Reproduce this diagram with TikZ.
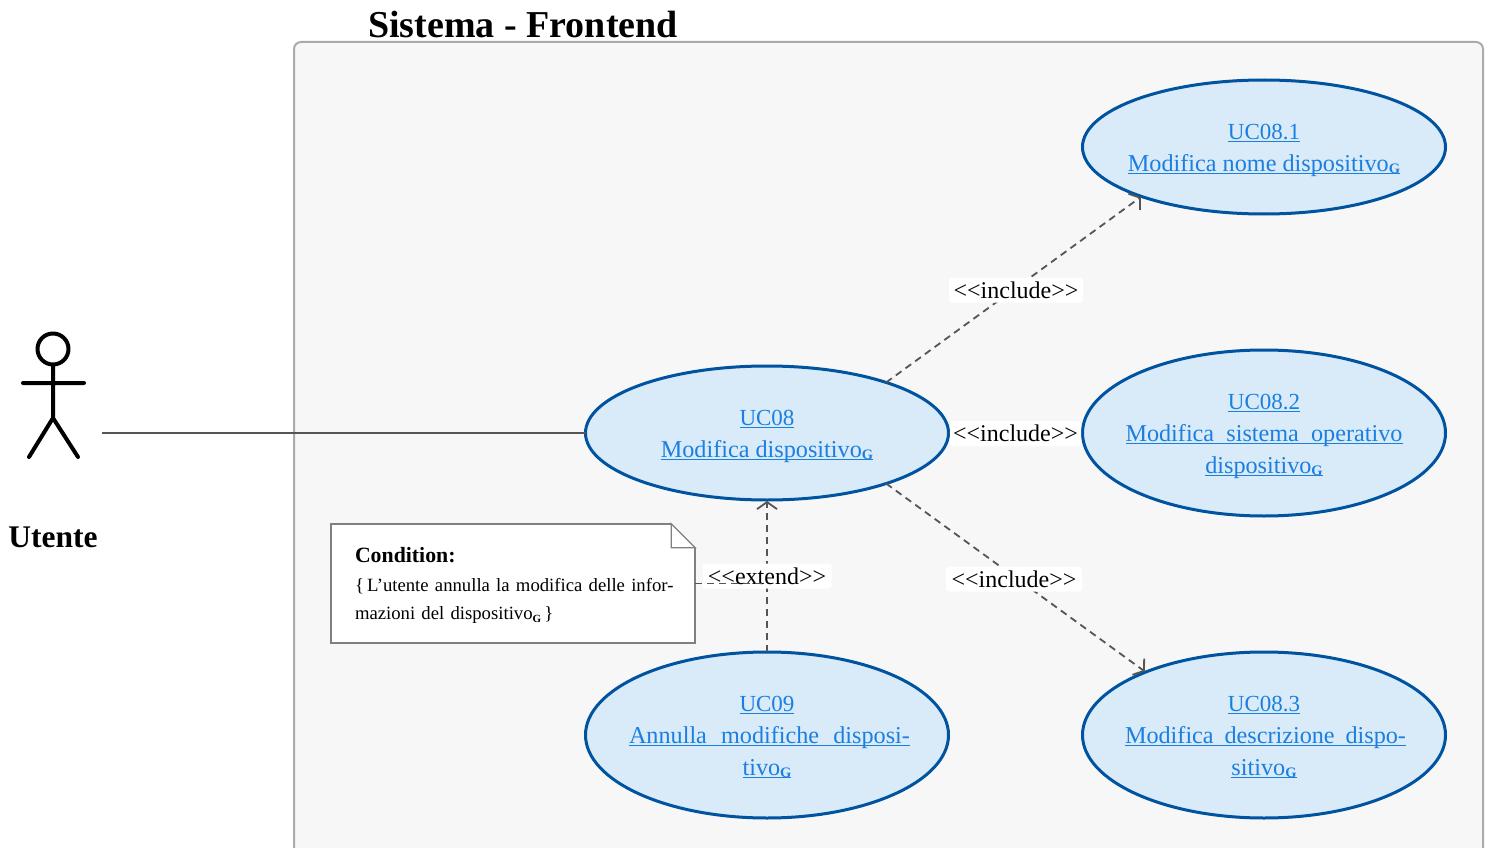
\documentclass[tikz,border=0pt]{standalone}
\usepackage{fontspec}
\setmainfont{Liberation Serif}
\usetikzlibrary{shapes.geometric,arrows.meta}
\definecolor{ucfill}{HTML}{D9EAF9}
\definecolor{ucline}{HTML}{00539F}
\definecolor{uclink}{HTML}{1A7FE0}
\definecolor{sysfill}{HTML}{F7F7F7}
\definecolor{sysline}{HTML}{ABABAB}
\definecolor{conn}{HTML}{555555}
\definecolor{noteline}{HTML}{808080}
\newcommand\ulin[1]{\leavevmode\setbox0=\hbox{#1}\rlap{\raisebox{-2.6pt}[0pt][0pt]{\vrule width\wd0 height1.3pt depth0pt}}\box0}
\newcommand\glsG[1][14.5]{\raisebox{-2.5pt}{\fontsize{#1}{#1}\selectfont\bfseries G}}
\newcommand\uctext[1]{\makebox[0pt]{\raisebox{-8.3pt}[0pt][0pt]{\begin{tabular}[c]{@{}c@{}}#1\end{tabular}}}}
\newcommand\just[2]{\makebox[#1pt][s]{#2}}
\newcommand\ucid[1]{\ulin{\fontsize{23}{32}\selectfont #1}}
\newcommand\dbl[1]{<{}<{}#1>{}>}
\tikzset{
  usecase/.style={ellipse,draw=ucline,fill=ucfill,line width=3pt,inner sep=0pt,outer sep=0pt,
    minimum width=363pt,text=uclink,font=\fontsize{24.2}{32}\selectfont},
  small uc/.style={usecase,minimum height=134pt},
  big uc/.style={usecase,minimum height=166pt},
  dep/.style={draw=conn,line width=1.8pt,dash pattern=on 7pt off 5pt,shorten >=1pt,-{Straight Barb[length=7pt,width=20pt,line width=1.8pt]}},
  deplabel/.style={fill=white,rounded corners=3pt,inner sep=0pt,minimum height=25pt,font=\fontsize{24}{25}\selectfont},
}
\begin{document}
\begin{tikzpicture}[x=1pt,y=-1pt]
\useasboundingbox (0,0) rectangle (1489,848);
% system boundary
\draw[fill=sysfill,draw=sysline,line width=2pt,rounded corners=7pt] (294,848) -- (294,42) -- (1483,42) -- (1483,848);
\node[anchor=base west,inner sep=0pt,font=\fontsize{38}{40}\selectfont\bfseries] (title) at (368,38) {Sistema - Frontend};
% actor
\draw[line width=4pt,line cap=round,line join=round,fill=none] (53,349) circle (15.5pt);
\draw[line width=4pt,line cap=round,line join=round] (53,365) -- (53,418) (23,383) -- (84,383) (29,457) -- (53,418) -- (78,457);
\node[inner sep=0pt,font=\fontsize{31.5}{33}\selectfont\bfseries] (actor) at (53,537) {Utente};
\coordinate (actorend) at (102,433);
% use cases
\node[small uc] (uc08) at (767,433) {\uctext{\ucid{UC08}\\\ulin{Modifica dispositivo\glsG}}};
\node[small uc] (uc081) at (1264,147) {\uctext{\ucid{UC08.1}\\\ulin{Modifica nome dispositivo\glsG}}};
\node[big uc] (uc082) at (1264,433) {\uctext{\ucid{UC08.2}\\\ulin{\just{277}{Modifica sistema operativo}}\\\ulin{dispositivo\glsG}}};
\node[big uc] (uc09) at (767,735) {\uctext{\ucid{UC09}\\\hspace*{5pt}\ulin{\just{281}{Annulla modifiche disposi-}}\\\ulin{tivo\glsG}}};
\node[big uc] (uc083) at (1264,735) {\uctext{\ucid{UC08.3}\\\hspace*{3pt}\ulin{\just{281}{Modifica descrizione dispo-}}\\\ulin{sitivo\glsG}}};
% note
\node[inner sep=0pt,minimum width=364pt,minimum height=119pt] (note) at (513,583.5) {};
\fill[white] (note.north west) -- ([xshift=-24pt]note.north east) -- ([yshift=-24pt]note.north east) -- (note.south east) -- (note.south west) -- cycle;
\draw[draw=noteline,line width=2pt,line join=miter] ([xshift=-24pt]note.north east) -- (note.north west) -- (note.south west) -- (note.south east) -- ([yshift=-24pt]note.north east);
\draw[draw=noteline,line width=1.2pt] ([xshift=-24pt]note.north east) -- ([xshift=-24pt,yshift=-24pt]note.north east) -- ([yshift=-24pt]note.north east) -- cycle;
\node[inner sep=0pt,text width=316pt,align=left,font=\fontsize{18.7}{28.5}\selectfont] (notetext) at (513,585.5)
  {{\fontsize{21.8}{28.5}\selectfont\bfseries Condition:}\\\just{319}{\{\,L’utente annulla la modifica delle infor-}\\\just{202}{mazioni del dispositivo\glsG[11]\,\}}};
% connectors
\draw[draw=conn,line width=1.6pt] (actorend) -- (uc08.west);
\draw[dep] (uc08.23.6) -- (uc081.202.6);
\draw[dep] (uc08.east) -- (uc082.west);
\draw[dep] (uc08.-23.6) -- (uc083.152.5);
\draw[dep] (uc09.north) -- (uc08.south);
% labels
\node[deplabel,minimum width=134pt] (l1) at (1016,290) {\dbl{include}};
\node[deplabel,minimum width=131pt] (l2) at (1015.5,433.5) {\dbl{include}};
\node[deplabel,minimum width=136pt] (l3) at (1014,579) {\dbl{include}};
\node[deplabel,minimum width=129pt] (l4) at (767,576) {\dbl{extend}};
\coordinate (noteend) at (767,583.5);
\draw[draw=conn,line width=1.2pt,dash pattern=on 7pt off 5pt] (note.east) -- (noteend);
\end{tikzpicture}
\end{document}
